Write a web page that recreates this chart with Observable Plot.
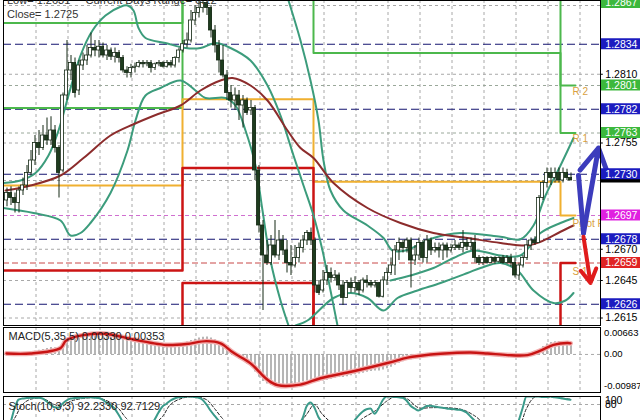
<!DOCTYPE html>
<html><head><meta charset="utf-8">
<script src="https://cdn.jsdelivr.net/npm/d3@7"></script>
<script src="https://cdn.jsdelivr.net/npm/@observablehq/plot@0.6"></script>
<style>
html,body{margin:0;padding:0;background:#fff;}
#root{position:relative;width:640px;height:420px;overflow:hidden;background:#fff;font-family:"Liberation Sans",Arial,sans-serif;}
#root > div.p{position:absolute;left:0;}
.lbl{position:absolute;font-size:11px;color:#333;white-space:nowrap;font-family:"Liberation Sans",Arial,sans-serif;}
</style></head><body><div id="root"></div>
<script>
// ---------- price candles (H1) ----------
const opens = [1.2709,1.2715,1.2711,1.2707,1.2717,1.2721,1.2731,1.2741,1.2755,1.2751,
1.2761,1.2757,1.2765,1.2751,1.2733,1.2793,1.2813,1.2819,1.2797,1.2817,
1.2821,1.2825,1.2831,1.2829,1.2832,1.2825,1.2829,1.2824,1.2827,1.2823,
1.2813,1.2811,1.2815,1.2816,1.2819,1.2818,1.2819,1.2815,1.2818,1.2819,
1.2816,1.2819,1.2817,1.2823,1.2829,1.2834,1.2837,1.2853,1.2859,1.2863,
1.2867,1.2863,1.2845,1.2833,1.2821,1.2809,1.2795,1.2789,1.2793,1.2785,
1.2789,1.2781,1.2783,1.2733,1.2689,1.2665,1.2659,1.2673,1.2665,1.2677,
1.2669,1.2659,1.2657,1.2663,1.2671,1.2677,1.2683,1.2677,1.2641,1.2637,
1.2645,1.2651,1.2647,1.2649,1.2641,1.2631,1.2643,1.2639,1.2643,1.2637,
1.2645,1.2643,1.2641,1.2643,1.2632,1.2645,1.2651,1.2657,1.2669,1.2675,
1.2671,1.2677,1.2661,1.2665,1.2675,1.2663,1.2677,1.2669,1.2671,1.2669,
1.2673,1.2669,1.2671,1.2673,1.2671,1.2675,1.2672,1.2675,1.2663,1.2659,
1.2663,1.2659,1.2663,1.2660,1.2663,1.2659,1.2663,1.2659,1.2649,1.2657,
1.2663,1.2673,1.2677,1.2675,1.2711,1.2723,1.2731,1.2727,1.2731,1.2725,
1.2731,1.2727];
const highs = [1.2719,1.2720,1.2715,1.2720,1.2727,1.2737,1.2749,1.2761,1.2765,1.2769,
1.2775,1.2776,1.2769,1.2753,1.2795,1.2837,1.2825,1.2823,1.2821,1.2827,
1.2833,1.2843,1.2837,1.2837,1.2835,1.2833,1.2831,1.2831,1.2829,1.2825,
1.2816,1.2818,1.2819,1.2821,1.2821,1.2821,1.2821,1.2819,1.2821,1.2820,
1.2821,1.2821,1.2824,1.2831,1.2837,1.2843,1.2861,1.2865,1.2869,1.2869,
1.2869,1.2865,1.2849,1.2837,1.2833,1.2813,1.2801,1.2799,1.2797,1.2793,
1.2791,1.2789,1.2785,1.2737,1.2693,1.2677,1.2681,1.2693,1.2685,1.2681,
1.2677,1.2673,1.2673,1.2675,1.2681,1.2685,1.2687,1.2679,1.2645,1.2653,
1.2657,1.2655,1.2653,1.2651,1.2645,1.2645,1.2647,1.2648,1.2645,1.2647,
1.2649,1.2645,1.2645,1.2643,1.2648,1.2655,1.2663,1.2673,1.2679,1.2677,
1.2679,1.2679,1.2673,1.2679,1.2677,1.2681,1.2679,1.2675,1.2675,1.2675,
1.2675,1.2674,1.2677,1.2675,1.2685,1.2679,1.2679,1.2681,1.2665,1.2664,
1.2664,1.2664,1.2664,1.2664,1.2665,1.2665,1.2666,1.2663,1.2659,1.2665,
1.2677,1.2679,1.2680,1.2713,1.2725,1.2735,1.2735,1.2735,1.2735,1.2735,
1.2734,1.2731];
const lows = [1.2704,1.2705,1.2699,1.2699,1.2713,1.2717,1.2729,1.2737,1.2745,1.2749,
1.2753,1.2753,1.2747,1.2711,1.2731,1.2789,1.2805,1.2791,1.2793,1.2813,
1.2817,1.2823,1.2824,1.2823,1.2823,1.2821,1.2821,1.2819,1.2819,1.2811,
1.2807,1.2807,1.2811,1.2815,1.2815,1.2816,1.2811,1.2813,1.2816,1.2815,
1.2815,1.2815,1.2815,1.2819,1.2827,1.2831,1.2835,1.2849,1.2855,1.2859,
1.2857,1.2839,1.2827,1.2811,1.2807,1.2789,1.2783,1.2781,1.2773,1.2767,
1.2777,1.2777,1.2725,1.2683,1.2621,1.2657,1.2657,1.2663,1.2661,1.2665,
1.2651,1.2649,1.2655,1.2659,1.2667,1.2673,1.2673,1.2635,1.2633,1.2635,
1.2641,1.2643,1.2645,1.2637,1.2625,1.2631,1.2635,1.2635,1.2633,1.2635,
1.2639,1.2639,1.2639,1.2631,1.2631,1.2641,1.2649,1.2649,1.2661,1.2667,
1.2667,1.2639,1.2657,1.2661,1.2659,1.2659,1.2665,1.2667,1.2663,1.2661,
1.2663,1.2667,1.2669,1.2669,1.2667,1.2669,1.2669,1.2659,1.2657,1.2657,
1.2658,1.2659,1.2658,1.2659,1.2658,1.2658,1.2656,1.2647,1.2645,1.2655,
1.2661,1.2669,1.2673,1.2675,1.2709,1.2719,1.2721,1.2723,1.2723,1.2723,
1.2725,1.2725];
const closes = [1.2715,1.2711,1.2707,1.2717,1.2721,1.2731,1.2741,1.2755,1.2751,1.2761,
1.2757,1.2765,1.2751,1.2731,1.2793,1.2813,1.2819,1.2795,1.2817,1.2821,
1.2825,1.2831,1.2829,1.2832,1.2825,1.2829,1.2824,1.2827,1.2823,1.2813,
1.2811,1.2815,1.2816,1.2819,1.2818,1.2819,1.2815,1.2818,1.2819,1.2816,
1.2819,1.2817,1.2823,1.2829,1.2834,1.2837,1.2853,1.2859,1.2863,1.2867,
1.2863,1.2845,1.2833,1.2821,1.2809,1.2795,1.2789,1.2793,1.2785,1.2789,
1.2779,1.2783,1.2733,1.2689,1.2665,1.2659,1.2673,1.2665,1.2677,1.2669,
1.2659,1.2657,1.2663,1.2671,1.2677,1.2683,1.2677,1.2641,1.2635,1.2645,
1.2651,1.2647,1.2649,1.2641,1.2631,1.2643,1.2639,1.2643,1.2637,1.2645,
1.2643,1.2641,1.2643,1.2632,1.2645,1.2651,1.2657,1.2669,1.2675,1.2671,
1.2677,1.2661,1.2665,1.2675,1.2663,1.2677,1.2669,1.2671,1.2669,1.2673,
1.2669,1.2671,1.2673,1.2671,1.2675,1.2672,1.2675,1.2663,1.2659,1.2663,
1.2659,1.2663,1.2660,1.2663,1.2659,1.2663,1.2659,1.2649,1.2657,1.2663,
1.2673,1.2677,1.2675,1.2711,1.2723,1.2731,1.2727,1.2731,1.2725,1.2731,
1.2727,1.2725];

// ---------- moving average & bands (bar index, price) ----------
const maX = [-0.25,6,13.5,19.25,26,31.75,37.75,43.5,48.5,53.5,56.5,61,65.25,70.25,73.5,76.75,81.75,90.25,98.5,106.75,115.25,123.5,130.25,133.5,138.5,141.75];
const maY = [1.2717,1.2721,1.2729,1.2743,1.2761,1.2770,1.2778,1.2785,1.2797,1.2805,1.2807,1.2801,1.2789,1.2765,1.2751,1.2743,1.2723,1.2703,1.2691,1.2683,1.2679,1.2675,1.2673,1.2676,1.2684,1.2689];
const bandAX = [-0.75,3.5,7.25,10.5,13,15.5,18.5,21.5,24.75,28.5,30.25,31.75,33,34.75,39.75,44.75,48.5,52.25,56,61,65.25,68.5,71.75,74.25,76.75,79,81,82.75];
const bandAY = [1.2723,1.2725,1.2731,1.2745,1.2765,1.2793,1.2825,1.2845,1.2857,1.2864,1.2865,1.2861,1.2847,1.2839,1.2835,1.2831,1.2831,1.2835,1.2831,1.2821,1.2801,1.2777,1.2745,1.2721,1.2697,1.2669,1.2637,1.2609];
const bandBX = [-0.75,6.75,13.5,16,18.5,21,26,30.25,32.25,34.75,38.5,43.5,47.25,49.75,54.75,57.25,59.75,62.25,64,66,68.5,70.5];
const bandBY = [1.2703,1.2699,1.2693,1.2681,1.2683,1.2691,1.2715,1.2749,1.2773,1.2793,1.2799,1.2805,1.2797,1.2791,1.2791,1.2785,1.2765,1.2737,1.2701,1.2661,1.2629,1.2609];
const bandCX = [70.5,73.5,76,78,79.25,81,84.25,90.25,94.25,96.5,99.75,106.75,113.5,123.5,128.5,131.75,134.75,138.5,141.75];
const bandCY = [1.2869,1.2837,1.2805,1.2773,1.2741,1.2717,1.2701,1.2689,1.2679,1.2669,1.2669,1.2679,1.2683,1.2680,1.2678,1.2689,1.2713,1.2737,1.2759];
const bandDX = [72.25,75.25,81.75,86,90.25,94.25,97.75,102.75,108.5,115.25,118.5,123.5,127.75,131.75,136.75,139.75,141.75];
const bandDY = [1.2609,1.2613,1.2631,1.2635,1.2631,1.2621,1.2631,1.2637,1.2643,1.2651,1.2655,1.2659,1.2653,1.2637,1.2627,1.2629,1.2635];
const bandEX = [96,101,106.75,111.75,116.75,123.5,128.5,133.5,138.5,141.75];
const bandEY = [1.2645,1.2649,1.2655,1.2663,1.2669,1.2665,1.2665,1.2683,1.2691,1.2695];

// ---------- daily pivot levels ----------
const dayStart = [-0.75, 44, 76.75, 138.5];
const dayEnd = 142.25;
const r2Vals = [1.2851, 1.2900, 1.2900, 1.2801];
const r1Vals = [1.2783, 1.2900, 1.2827, 1.2763];
const ppVals = [1.2721, 1.2790, 1.2724, 1.2697];
const s1Vals = [1.2653, 1.2735, 1.2590, 1.2659];
const s2Vals = [1.2590, 1.2643, 1.2590, 1.2590];
const pivotNames = ["R 2", "R 1", "Pivot Point", "S 1"];
const pivotNameVals = [1.2796, 1.2758, 1.2690, 1.2652];

// ---------- right-axis levels ----------
const levelVals = [1.2867, 1.2834, 1.2801, 1.2782, 1.2763, 1.2730, 1.2697, 1.2678, 1.2659, 1.2626];
const levelKinds = ["R", "D", "R", "D", "R", "D", "P", "D", "S", "D"];
const plainTicks = [1.2810, 1.2755, 1.2670, 1.2645, 1.2615];
const gridY = [1.2865, 1.2810, 1.2755, 1.2725, 1.2670, 1.2645, 1.2615];
const gridX = [7.25,15.25,23.25,31.25,39.25,47.25,55.25,63.25,71.25,79.25,87.25,95.25,103.25,111.25,119.25,127.25,135.25,143.25];
const currentPrice = 1.2725;

// ---------- forecast arrows ----------
const blueX = [143, 144.25, 148];
const blueY = [1.2729, 1.2683, 1.2751];
const redX = [144.25, 146];
const redY = [1.2680, 1.2643];

// ---------- MACD(5,35,5) ----------
const macdHist = [0.0002,0.0003,0.0002,0.0001,0.0002,0.0004,
0.0007,0.0010,0.0013,0.0016,0.0019,0.0022,0.0021,0.0015,
0.0030,0.0042,0.0050,
0.0048,0.0052,0.0057,0.0060,0.0063,0.0065,0.0066,0.0064,0.0062,0.0060,0.0058,0.0055,0.0050,0.0047,0.0044,0.0042,0.0040,
0.0038,0.0036,0.0034,0.0033,0.0032,0.0031,0.0030,0.0030,0.0031,0.0033,0.0036,0.0039,0.0044,0.0048,0.0052,
0.0054,0.0055,0.0052,0.0046,0.0038,0.0028,0.0018,0.0008,
-0.0005,-0.0015,-0.0022,-0.0030,-0.0035,-0.0055,-0.0072,-0.0085,-0.0093,-0.0098,
-0.0099,-0.0098,-0.0097,-0.0096,-0.0094,-0.0092,-0.0089,-0.0086,-0.0083,-0.0081,
-0.0085,-0.0086,-0.0084,-0.0081,-0.0078,-0.0075,-0.0073,-0.0073,-0.0070,-0.0067,-0.0064,-0.0062,-0.0059,-0.0056,
-0.0054,-0.0052,-0.0052,-0.0049,-0.0045,-0.0040,-0.0034,-0.0028,-0.0023,-0.0019,-0.0017,-0.0014,-0.0011,-0.0009,
-0.0006,-0.0005,-0.0003,-0.0002,-0.0001,0.0000,0.0001,0.0002,0.0003,0.0004,0.0004,0.0005,0.0004,0.0003,0.0002,0.0001,0.0000,-0.0001,-0.0002,-0.0002,-0.0003,-0.0003,-0.0004,-0.0005,-0.0004,-0.0002,-0.0001,0.0000,
0.0015,0.0025,0.0033,0.0038,0.0040,0.0041,0.0040,0.0037,0.0033];
const signalX = [0,6,13.5,15,23.5,31.75,36,40,45,50,53.5,56.75,61,65.25,67.75,73.5,78.5,86.75,95.25,100.25,103.5,108.5,116,120.25,125.25,130.25,133.5,136.75,140.25,141];
const signalY = [0.0003,0.0003,0.0020,0.0045,0.0066,0.0047,0.0037,0.0030,0.0033,0.0042,0.0035,0.0005,-0.0028,-0.0080,-0.0097,-0.0095,-0.0075,-0.0053,-0.0027,-0.0010,-0.0004,0.0002,0.0006,0.0003,-0.0002,-0.0002,0.0012,0.0030,0.0036,0.0035];
const macdTicks = [0.00663, 0, -0.00987];
const macdTickText = ["0.00663", "0.00", "-0.00987"];

// ---------- Stochastic(10,3,3) ----------
const stochMain = [20,35,70,92,95,96,97,97,97,95,88,80,73,72,82,90,95,96,97,97,
98,98,97,96,92,85,78,70,55,38,25,18,15,18,22,25,30,42,60,75,
82,90,95,98,99,100,100,99,97,92,80,65,52,40,28,18,12,10,8,10,
12,10,5,3,5,10,15,18,20,18,15,18,22,30,45,75,85,72,48,35,
28,25,22,20,15,18,25,40,52,62,68,70,57,70,90,100,100,99,98,97,
90,77,70,65,70,76,77,75,73,72,70,69,68,67,65,60,50,40,30,25,
22,25,28,30,28,25,20,15,38,70,100,100,100,100,99,99,100,98,97,95,
93,92];
const stochSigX = [0,2,4,6,9,12,14,16,19,23,26,28,30,33,36,39,41,44,47,50,52,54,57,62,66,72,75,77,79,82,86,89,92,95,97,100,103,106,110,114,117,120,125,128,130,132,136,141];
const stochSigY = [15,45,80,93,95,80,76,88,95,96,85,70,45,22,25,50,80,96,99,92,70,45,18,9,10,20,55,80,55,30,20,45,63,88,99,95,72,72,72,67,52,30,27,25,70,98,99,93];
const stochLevels = [80, 20];

// ================= drawing =================
const root = document.getElementById("root");
const FONT = "Liberation Sans, Arial, sans-serif";
const XD = [-0.75, 148.5];
const bars = closes.map((c, i) => ({i, o: opens[i], h: highs[i], l: lows[i], c}));
const pts = (xs, ys) => xs.map((x, k) => ({x, y: ys[k]}));
const stepPts = vals => dayStart.map((x, k) => ({x, y: vals[k]})).concat([{x: dayEnd, y: vals[vals.length - 1]}]);
const kindColor = {R: "#3cb83c", D: "#1c1cc0", P: "#e020e0", S: "#e02424"};
const levels = levelVals.map((v, k) => ({v, kind: levelKinds[k], t: v.toFixed(4)}));
const TEAL = "#3c9c7c";

const main = Plot.plot({
  width: 640, height: 326, marginLeft: 3, marginRight: 40, marginTop: 0, marginBottom: 1,
  x: {domain: XD, axis: null},
  y: {domain: [1.2609, 1.2869], axis: null},
  marks: [
    Plot.ruleX(gridX, {stroke: "#a8a8a8", strokeDasharray: "3,3", strokeWidth: 1, dx: 0.5}),
    Plot.ruleY(gridY, {stroke: "#a8a8a8", strokeDasharray: "3,3", strokeWidth: 1}),
    Plot.ruleY([levelVals[2], levelVals[4]], {stroke: "#9aa89a", strokeDasharray: "3,3"}),
    Plot.ruleY([levelVals[6]], {stroke: "#d070d0", strokeDasharray: "4,3"}),
    Plot.ruleY([levelVals[8]], {stroke: "#c84848", strokeDasharray: "6,3"}),
    Plot.ruleY(levels.filter(d => d.kind === "D"), {y: "v", stroke: "#141470", strokeDasharray: "8,4", strokeWidth: 1.2}),
    // pivot step lines
    Plot.line(stepPts(r2Vals), {x: "x", y: "y", curve: "step-after", stroke: "#4cb84c", strokeWidth: 2, clip: true}),
    Plot.line(stepPts(r1Vals), {x: "x", y: "y", curve: "step-after", stroke: "#4cb84c", strokeWidth: 2, clip: true}),
    Plot.line(stepPts(ppVals), {x: "x", y: "y", curve: "step-after", stroke: "#f0b030", strokeWidth: 2, clip: true}),
    Plot.line(stepPts(s1Vals), {x: "x", y: "y", curve: "step-after", stroke: "#cc1414", strokeWidth: 2.5, clip: true}),
    Plot.line(stepPts(s2Vals), {x: "x", y: "y", curve: "step-after", stroke: "#cc1414", strokeWidth: 2.5, clip: true}),
    // bands and MA
    Plot.line(pts(bandAX, bandAY), {x: "x", y: "y", curve: "catmull-rom", stroke: TEAL, strokeWidth: 2, clip: true}),
    Plot.line(pts(bandBX, bandBY), {x: "x", y: "y", curve: "catmull-rom", stroke: TEAL, strokeWidth: 2, clip: true}),
    Plot.line(pts(bandCX, bandCY), {x: "x", y: "y", curve: "catmull-rom", stroke: TEAL, strokeWidth: 2, clip: true}),
    Plot.line(pts(bandDX, bandDY), {x: "x", y: "y", curve: "catmull-rom", stroke: TEAL, strokeWidth: 2, clip: true}),
    Plot.line(pts(bandEX, bandEY), {x: "x", y: "y", curve: "catmull-rom", stroke: TEAL, strokeWidth: 2, clip: true}),
    Plot.line(pts(maX, maY), {x: "x", y: "y", curve: "catmull-rom", stroke: "#8c2c2c", strokeWidth: 2, clip: true}),
    // candles
    Plot.ruleX(bars, {x: "i", y1: "l", y2: "h", stroke: "#142814", strokeWidth: 1, dx: 0.5, clip: true}),
    Plot.rect(bars, {x1: d => d.i - 0.4, x2: d => d.i + 0.4, y1: "o", y2: "c",
      fill: d => d.c >= d.o ? "#ffffff" : "#1e3c1e", stroke: "#142814", strokeWidth: 0.8, clip: true}),
    // pivot labels
    Plot.text(pivotNames, {x: 141.5, y: (d, k) => pivotNameVals[k], text: d => d, textAnchor: "start",
      fill: "#d8a040", fontSize: 10, fontFamily: FONT, clip: true}),
    // forecast arrows
    Plot.line(pts(blueX.slice(0, 2), blueY.slice(0, 2)), {x: "x", y: "y", stroke: "#3c3cbc", strokeWidth: 5}),
    Plot.arrow([0], {x1: blueX[1], y1: blueY[1], x2: blueX[2], y2: blueY[2], stroke: "#3c3cbc", strokeWidth: 5, headLength: 10, bend: 0}),
    Plot.arrow([0], {x1: redX[0], y1: redY[0], x2: redX[1], y2: redY[1], stroke: "#e01c1c", strokeWidth: 4, headLength: 9, bend: 0}),
    Plot.frame({stroke: "#000", strokeWidth: 1}),
    // right axis
    Plot.rect([0], {x1: 148.75, x2: 159, y1: currentPrice - 0.0002, y2: currentPrice + 0.0002, fill: "#000"}),
    Plot.rect(levels, {x1: 148.75, x2: 159, y1: d => d.v - 0.00044, y2: d => d.v + 0.00044, fill: d => kindColor[d.kind]}),
    Plot.text(levels, {x: 149.7, y: "v", text: "t", fill: "white", textAnchor: "start", fontSize: 10.5, fontFamily: FONT}),
    Plot.text(plainTicks, {x: 149.7, y: d => d, text: d => d.toFixed(4), fill: "#000", textAnchor: "start", fontSize: 10.5, fontFamily: FONT}),
    Plot.ruleY(plainTicks, {x1: 148.5, x2: 149.2, stroke: "#000"})
  ]
});

const macd = Plot.plot({
  width: 640, height: 67, marginLeft: 3, marginRight: 40, marginTop: 1, marginBottom: 1,
  x: {domain: XD, axis: null},
  y: {domain: [-0.0120, 0.0085], axis: null},
  marks: [
    Plot.ruleX(gridX, {stroke: "#a8a8a8", strokeDasharray: "3,3", dx: 0.5}),
    Plot.ruleY([0], {stroke: "#a8a8a8", strokeDasharray: "3,3"}),
    Plot.ruleX(macdHist, {x: (d, i) => i, y1: 0, y2: d => d, stroke: "#a4a4a4", strokeWidth: 1.6, dx: 0.5}),
    Plot.line(pts(signalX, signalY), {x: "x", y: "y", curve: "catmull-rom", stroke: "#f2b0b0", strokeWidth: 5}),
    Plot.line(pts(signalX, signalY), {x: "x", y: "y", curve: "catmull-rom", stroke: "#c81414", strokeWidth: 2.4}),
    Plot.frame({stroke: "#000"}),
    Plot.text(macdTicks, {x: 149.4, y: d => d, text: (d, k) => macdTickText[k], textAnchor: "start", fill: "#000", fontSize: 9.5, fontFamily: FONT}),
    Plot.text(["MACD(5,35,5) 0.00330 0.00353"], {frameAnchor: "top-left", dx: 5, dy: 5, fill: "#222", fontSize: 11, fontFamily: FONT})
  ]
});

const stoch = Plot.plot({
  width: 640, height: 47, marginLeft: 3, marginRight: 40, marginTop: 3, marginBottom: 4,
  x: {domain: XD, axis: null},
  y: {domain: [0, 100], axis: null},
  marks: [
    Plot.ruleX(gridX, {stroke: "#a8a8a8", strokeDasharray: "3,3", dx: 0.5}),
    Plot.ruleY(stochLevels, {stroke: "#a8a8a8", strokeDasharray: "3,3"}),
    Plot.line(pts(stochSigX, stochSigY), {x: "x", y: "y", curve: "catmull-rom", stroke: "#222", strokeWidth: 1, strokeDasharray: "3,2", clip: true}),
    Plot.line(stochMain, {x: (d, i) => i, y: d => d, curve: "monotone-x", stroke: "#3a9a8a", strokeWidth: 2, clip: true}),
    Plot.frame({stroke: "#000"}),
    Plot.text([100], {x: 149.6, y: d => d, text: ["100"], textAnchor: "start", lineAnchor: "top", fill: "#000", fontSize: 10.5, fontFamily: FONT}),
    Plot.text(stochLevels.slice(0, 1), {x: 149.6, y: d => d, text: d => String(d), textAnchor: "start", fill: "#000", fontSize: 10.5, fontFamily: FONT}),
    Plot.text(["Stoch(10,3,3) 92.2330 92.7129"], {frameAnchor: "top-left", dx: 5, dy: 6, fill: "#222", fontSize: 11, fontFamily: FONT})
  ]
});

function place(el, top) {
  const d = document.createElement("div");
  d.className = "p";
  d.style.top = top + "px";
  d.appendChild(el);
  root.appendChild(d);
}
place(main, 0);
place(macd, 326);
place(stoch, 393);

const t1 = document.createElement("div");
t1.className = "lbl"; t1.style.left = "7px"; t1.style.top = "-6px";
t1.textContent = "Low= 1.2631     Current Days Range= 0.12";
t1.style.whiteSpace = "pre";
root.appendChild(t1);
const t2 = document.createElement("div");
t2.className = "lbl"; t2.style.left = "7px"; t2.style.top = "8px";
t2.textContent = "Close= 1.2725";
root.appendChild(t2);
</script>
</body></html>
